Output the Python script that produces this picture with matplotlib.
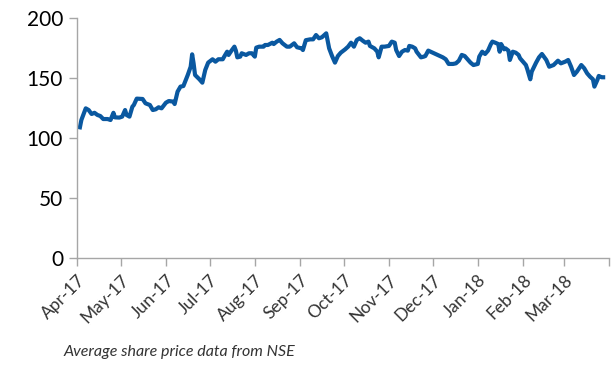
import pandas as pd
import matplotlib
matplotlib.use("Agg")
import matplotlib.pyplot as plt

plt.rcParams['font.family'] = ['Lato', 'DejaVu Sans']

# average share price, Apr-2017 .. Mar-2018
dates = [
    "2017-04-03", "2017-04-04", "2017-04-07", "2017-04-09", "2017-04-11", "2017-04-13",
    "2017-04-15", "2017-04-17", "2017-04-19", "2017-04-22", "2017-04-24", "2017-04-26",
    "2017-04-27", "2017-04-30", "2017-05-02", "2017-05-04", "2017-05-05", "2017-05-07",
    "2017-05-09", "2017-05-10", "2017-05-12", "2017-05-16", "2017-05-18", "2017-05-21",
    "2017-05-23", "2017-05-25", "2017-05-27", "2017-05-29", "2017-06-01", "2017-06-03",
    "2017-06-06", "2017-06-07", "2017-06-09", "2017-06-11", "2017-06-13", "2017-06-16",
    "2017-06-18", "2017-06-19", "2017-06-20", "2017-06-21", "2017-06-24", "2017-06-26",
    "2017-06-28", "2017-06-30", "2017-07-03", "2017-07-05", "2017-07-07", "2017-07-10",
    "2017-07-11", "2017-07-13", "2017-07-14", "2017-07-16", "2017-07-18", "2017-07-19",
    "2017-07-20", "2017-07-22", "2017-07-23", "2017-07-26", "2017-07-28", "2017-07-30",
    "2017-08-01", "2017-08-02", "2017-08-04", "2017-08-07", "2017-08-08", "2017-08-10",
    "2017-08-13", "2017-08-14", "2017-08-16", "2017-08-18", "2017-08-20", "2017-08-23",
    "2017-08-25", "2017-08-28", "2017-08-30", "2017-09-02", "2017-09-03", "2017-09-05",
    "2017-09-08", "2017-09-10", "2017-09-12", "2017-09-14", "2017-09-16", "2017-09-19",
    "2017-09-21", "2017-09-23", "2017-09-25", "2017-09-27", "2017-09-29", "2017-10-02",
    "2017-10-04", "2017-10-06", "2017-10-08", "2017-10-10", "2017-10-12", "2017-10-14",
    "2017-10-16", "2017-10-18", "2017-10-19", "2017-10-22", "2017-10-24", "2017-10-25",
    "2017-10-27", "2017-10-29", "2017-11-01", "2017-11-03", "2017-11-05", "2017-11-06",
    "2017-11-08", "2017-11-10", "2017-11-12", "2017-11-14", "2017-11-15", "2017-11-17",
    "2017-11-19", "2017-11-20", "2017-11-23", "2017-11-25", "2017-11-26", "2017-11-28",
    "2017-12-01", "2017-12-03", "2017-12-06", "2017-12-08", "2017-12-10", "2017-12-12",
    "2017-12-15", "2017-12-17", "2017-12-19", "2017-12-21", "2017-12-23", "2017-12-25",
    "2017-12-27", "2017-12-29", "2018-01-01", "2018-01-02", "2018-01-04", "2018-01-06",
    "2018-01-08", "2018-01-10", "2018-01-11", "2018-01-13", "2018-01-15", "2018-01-16",
    "2018-01-17", "2018-01-19", "2018-01-20", "2018-01-22", "2018-01-23", "2018-01-25",
    "2018-01-27", "2018-01-29", "2018-01-30", "2018-02-01", "2018-02-03", "2018-02-04",
    "2018-02-06", "2018-02-07", "2018-02-10", "2018-02-12", "2018-02-14", "2018-02-17",
    "2018-02-19", "2018-02-22", "2018-02-25", "2018-02-27", "2018-03-02", "2018-03-04",
    "2018-03-06", "2018-03-08", "2018-03-10", "2018-03-13", "2018-03-15", "2018-03-17",
    "2018-03-19", "2018-03-21", "2018-03-22", "2018-03-24", "2018-03-25", "2018-03-27",
    "2018-03-28",
]
prices = [
    108.9, 115.0, 124.7, 123.3, 120.0, 121.0,
    119.2, 118.3, 115.8, 115.8, 115.0, 121.0,
    117.2, 117.0, 117.8, 123.3, 119.2, 117.8,
    126.1, 127.5, 132.8, 132.5, 128.9, 127.5,
    123.3, 123.9, 125.6, 124.7, 129.4, 130.8,
    130.3, 128.3, 138.6, 142.8, 143.3, 152.5,
    159.4, 169.7, 162.2, 152.5, 148.9, 146.1,
    156.7, 162.8, 165.6, 163.6, 165.6, 165.6,
    167.8, 171.9, 169.2, 172.8, 176.1, 172.8,
    167.2, 167.8, 170.6, 169.2, 170.6, 170.6,
    167.8, 175.3, 176.1, 176.1, 177.5, 177.5,
    179.4, 178.3, 180.3, 181.7, 178.9, 176.1,
    176.1, 178.9, 175.6, 174.7, 173.3, 181.5,
    182.2, 182.2, 185.8, 183.1, 183.9, 187.2,
    174.7, 168.3, 162.8, 168.3, 171.1, 173.9,
    176.1, 179.4, 176.1, 181.7, 183.1, 181.1,
    179.4, 180.3, 176.7, 174.7, 172.0, 167.2,
    176.1, 176.1, 176.7, 180.3, 179.4, 173.3,
    168.3, 171.9, 173.3, 172.8, 176.7, 176.1,
    174.7, 171.9, 167.2, 167.8, 168.3, 172.8,
    171.1, 170.0, 168.3, 167.2, 165.6, 161.7,
    161.7, 162.2, 164.4, 169.2, 168.3, 165.6,
    162.8, 160.8, 161.7, 167.8, 171.9, 170.0,
    172.8, 178.3, 180.3, 179.4, 178.3, 171.9,
    178.3, 173.9, 174.7, 172.8, 165.0, 171.9,
    171.1, 169.2, 166.4, 163.6, 160.8, 157.2,
    148.9, 155.3, 162.8, 167.2, 170.0, 165.0,
    159.4, 160.8, 164.4, 162.2, 163.6, 165.0,
    159.4, 152.5, 155.3, 160.8, 158.1, 153.9,
    151.1, 148.9, 142.8, 148.3, 151.7, 150.6,
    150.6,
]
month_starts = pd.date_range("2017-04-01", "2018-04-01", freq="MS")
month_labels = [d.strftime("%b-%y") for d in month_starts[:-1]] + [""]

dates = pd.to_datetime(dates)

fig = plt.figure(figsize=(6.15, 3.67), dpi=100)
ax = fig.add_axes([0.1252, 0.297, 0.865, 0.654])

ax.plot(dates, prices, color="#0a58a0", linewidth=3.0, solid_joinstyle="round")

ax.set_ylim(0, 200)
ax.set_yticks([0, 50, 100, 150, 200])
ax.set_xlim(month_starts[0], month_starts[-1])
ax.set_xticks(month_starts)
ax.set_xticklabels(month_labels, rotation=45, ha="right", rotation_mode="anchor")

for side in ("top", "right"):
    ax.spines[side].set_visible(False)
for side in ("left", "bottom"):
    ax.spines[side].set_color("#a6a6a6")
    ax.spines[side].set_linewidth(1.0)

ax.tick_params(axis="y", colors="#a6a6a6", labelcolor="black", labelsize=15,
               length=6, width=1.0, pad=4)
ax.tick_params(axis="x", colors="#a6a6a6", labelcolor="#333333", labelsize=12.5,
               length=6, width=1.0, pad=4)

fig.text(0.103, 0.04, "Average share price data from NSE", style="italic",
         fontsize=11.5, color="#333333", ha="left", va="center")

fig.savefig("out.png", dpi=100)
